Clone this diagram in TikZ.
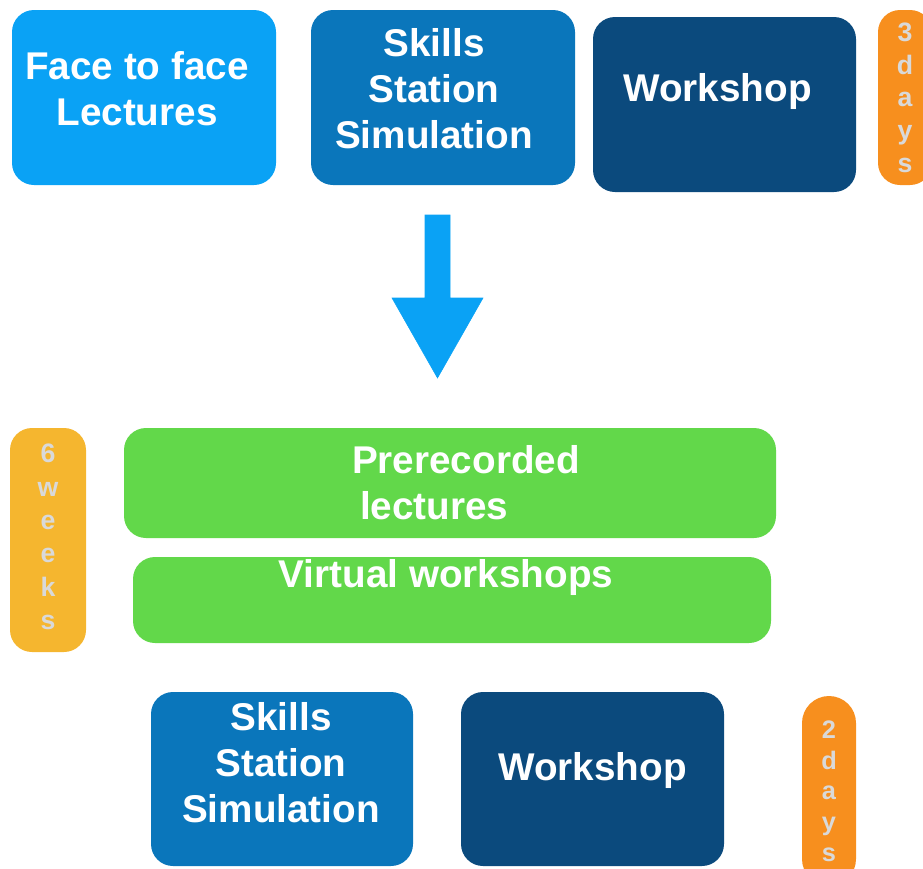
\documentclass[tikz,border=0pt]{standalone}
\usepackage{fontspec}
\setmainfont{Liberation Sans}

\newlength\px
\setlength\px{0.75pt}

\definecolor{skyblue}{HTML}{0AA2F5}
\definecolor{midblue}{HTML}{0A76BB}
\definecolor{deepblue}{HTML}{0B4A7D}
\definecolor{pillorange}{HTML}{F78F1E}
\definecolor{pillyellow}{HTML}{F5B62F}
\definecolor{leafgreen}{HTML}{62D84A}
\definecolor{pilltext}{HTML}{D9D9D9}

\begin{document}
\begin{tikzpicture}[x=0.75pt, y=-0.75pt,
    box/.style={rounded corners=22\px, inner sep=0pt},
    boxtext/.style={text=white, align=center, inner sep=0pt,
                    font=\fontsize{29}{34.5}\selectfont\bfseries},
    pill/.style={rounded corners=22\px, inner sep=0pt, minimum width=54\px},
    pilltext/.style={text=pilltext, align=center, inner sep=0pt,
                     font=\fontsize{20}{24.5}\selectfont\bfseries}]
    \useasboundingbox (0,0) rectangle (923,868);
    \clip (0,0) rectangle (923,868);

    % before: three days on site
    \node [box, fill=skyblue, minimum width=264\px, minimum height=175\px] (lect) at (144,97.5) {};
    \node [boxtext] at ([xshift=-7\px, yshift=9\px]lect.center) {Face to face\\Lectures};
    \node [box, fill=midblue, minimum width=264\px, minimum height=175\px] (skills) at (443,97.5) {};
    \node [boxtext] at ([xshift=-9\px, yshift=9\px]skills.center) {Skills\\Station\\Simulation};
    \node [box, fill=deepblue, minimum width=263\px, minimum height=175\px] (work) at (724.5,104.5) {};
    \node [boxtext] at ([xshift=-7\px, yshift=13\px]work.center) {Workshop};
    \node [pill, fill=pillorange, minimum height=175\px] (three) at (905,97.5) {};
    \node [pilltext] at (three.center) {3\\d\\a\\y\\s};

    % big arrow down
    \filldraw [skyblue] (425,215) -- (450,215) -- (450,298) -- (483,298)
        -- (437.5,378) -- (392,298) -- (425,298) -- cycle;

    % after: six weeks online
    \node [pill, fill=pillyellow, minimum width=76\px, minimum height=224\px] (six) at (48,540) {};
    \node [pilltext, font=\fontsize{20}{25}\selectfont\bfseries] at ([yshift=3\px]six.center) {6\\w\\e\\e\\k\\s};
    \node [box, fill=leafgreen, minimum width=652\px, minimum height=110\px] (prerec) at (450,483) {};
    \node [boxtext, align=left] at ([xshift=16\px]prerec.center) {Prerecorded\\\hspace*{6pt}lectures};
    \node [box, fill=leafgreen, minimum width=638\px, minimum height=86\px] (virtual) at (452,600) {};
    \node [boxtext] at ([xshift=-6\px, yshift=-21\px]virtual.north) {Virtual workshops};

    % then two days on site
    \node [box, fill=midblue, minimum width=262\px, minimum height=174\px] (skills2) at (282,779) {};
    \node [boxtext] at ([xshift=-1\px, yshift=16\px]skills2.center) {Skills\\Station\\Simulation};
    \node [box, fill=deepblue, minimum width=263\px, minimum height=174\px] (work2) at (592.5,779) {};
    \node [boxtext] at ([yshift=9\px]work2.center) {Workshop};
    \node [pill, fill=pillorange, minimum height=190\px, rounded corners=27\px] (two) at (829,791) {};
    \node [pilltext, font=\fontsize{19}{23}\selectfont\bfseries] at (two.center) {2\\d\\a\\y\\s};
\end{tikzpicture}
\end{document}
